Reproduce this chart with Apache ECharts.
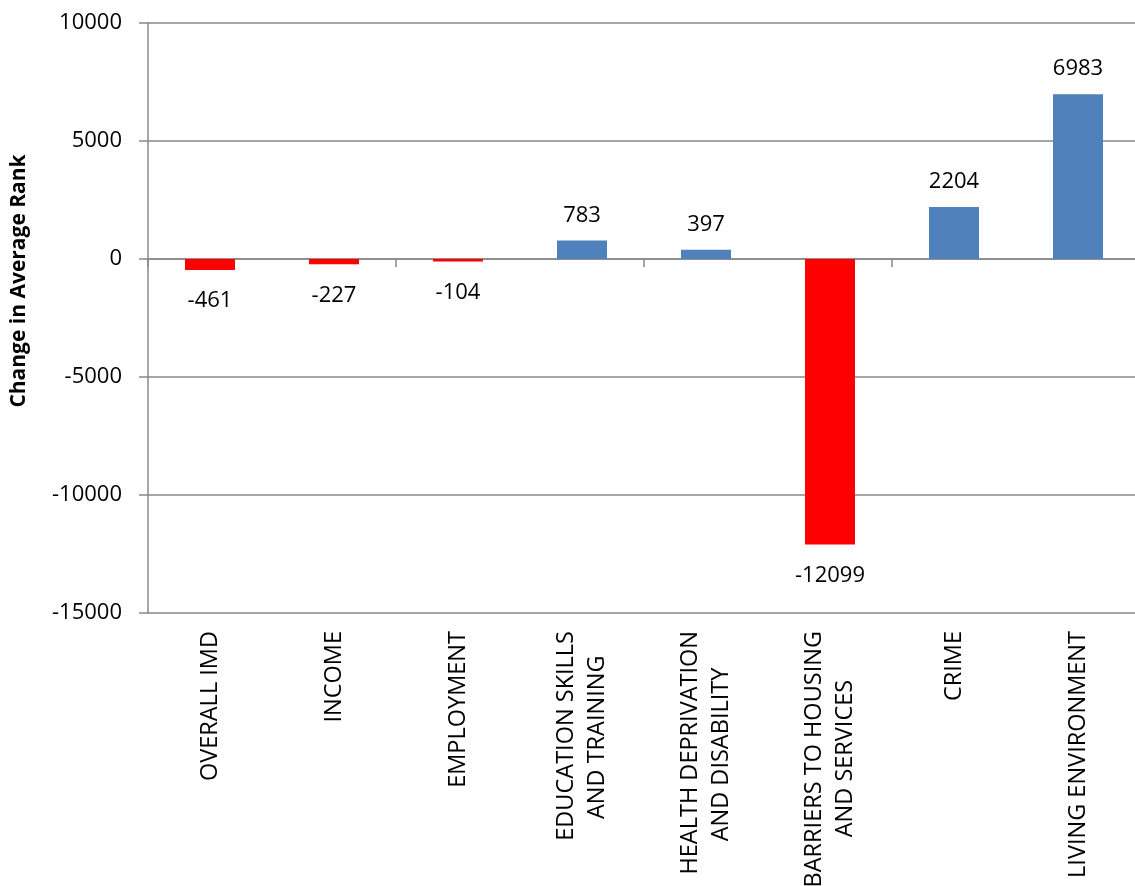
<!DOCTYPE html>
<html>
<head>
<meta charset="utf-8">
<script src="https://cdn.jsdelivr.net/npm/echarts@6/dist/echarts.min.js"></script>
<style>
  html, body { margin: 0; padding: 0; background: #fff; }
  #chart { width: 1135px; height: 886px; }
</style>
</head>
<body>
<div id="chart"></div>
<script>
// categories and values
const categories = [
  'OVERALL IMD',
  'INCOME',
  'EMPLOYMENT',
  'EDUCATION SKILLS\nAND TRAINING',
  'HEALTH DEPRIVATION\nAND DISABILITY',
  'BARRIERS TO HOUSING\nAND SERVICES',
  'CRIME',
  'LIVING ENVIRONMENT'
];
const changeValues = [-461, -227, -104, 783, 397, -12099, 2204, 6983];
const yTicks = { min: -15000, max: 10000, interval: 5000 };

const FONT = '"Open Sans", "Noto Sans", sans-serif';
const CAT_SIZE = 23.5;
const BLUE = '#4f81bd';
const RED = '#ff0000';

// colour and label side depend on the sign of each value
const barData = changeValues.map(function (v) {
  return {
    value: v,
    itemStyle: { color: v < 0 ? RED : BLUE },
    label: { position: v < 0 ? 'bottom' : 'top', distance: v < 0 ? 20 : 14 }
  };
});

// two-line labels: centre the shorter line by padding it with trailing no-break spaces
// (labels are rotated and right aligned, so the end of each line sits at the axis)
const ctx = document.createElement('canvas').getContext('2d');
ctx.font = CAT_SIZE + 'px ' + FONT;
function centreLines(value) {
  const lines = value.split('\n');
  if (lines.length < 2) return value;
  const widths = lines.map(function (l) { return ctx.measureText(l).width; });
  const maxW = Math.max.apply(null, widths);
  const spaceW = ctx.measureText('\u00a0').width;
  return lines.map(function (l, i) {
    const n = Math.round((maxW - widths[i]) / 2 / spaceW);
    return l + '\u00a0'.repeat(n);
  }).join('\n');
}

const chart = echarts.init(document.getElementById('chart'));

chart.setOption({
  animation: false,
  backgroundColor: '#fff',
  grid: { left: 148, right: -5, top: 23, bottom: 273, outerBoundsMode: 'none', containLabel: false },
  xAxis: [
    {
      // zero line with the boundary ticks
      type: 'category',
      data: categories,
      position: 'bottom',
      axisLine: { onZero: true, lineStyle: { color: '#888', width: 1.5 } },
      axisTick: { show: true, length: 8, lineStyle: { color: '#888', width: 1.5 } },
      axisLabel: { show: false },
      splitLine: { show: false }
    },
    {
      // category labels under the plot
      type: 'category',
      data: categories,
      position: 'bottom',
      axisLine: { show: false, onZero: false },
      axisTick: { show: false },
      splitLine: { show: false },
      axisLabel: {
        rotate: 90,
        margin: 18,
        interval: 0,
        fontFamily: FONT,
        fontSize: CAT_SIZE,
        lineHeight: 31,
        color: '#000',
        formatter: centreLines
      }
    }
  ],
  yAxis: {
    type: 'value',
    min: yTicks.min,
    max: yTicks.max,
    interval: yTicks.interval,
    name: 'Change in Average Rank',
    nameLocation: 'middle',
    nameGap: 118,
    nameRotate: 90,
    nameTextStyle: {
      fontFamily: FONT,
      fontSize: 21,
      fontWeight: 'bold',
      color: '#000',
      padding: [0, 0, 0, 74]
    },
    axisLine: { show: true, lineStyle: { color: '#888', width: 1.5 } },
    axisTick: { show: true, length: 9, lineStyle: { color: '#888', width: 1.5 } },
    axisLabel: {
      margin: 26,
      fontFamily: FONT,
      fontSize: 22,
      color: '#000',
      formatter: function (v) { return String(v); }
    },
    splitLine: { show: true, lineStyle: { color: '#888', width: 1.5 } }
  },
  series: [
    {
      type: 'bar',
      xAxisIndex: 0,
      data: barData,
      barWidth: 50,
      label: {
        show: true,
        fontFamily: FONT,
        fontSize: 22,
        color: '#000'
      }
    }
  ]
});
</script>
</body>
</html>
